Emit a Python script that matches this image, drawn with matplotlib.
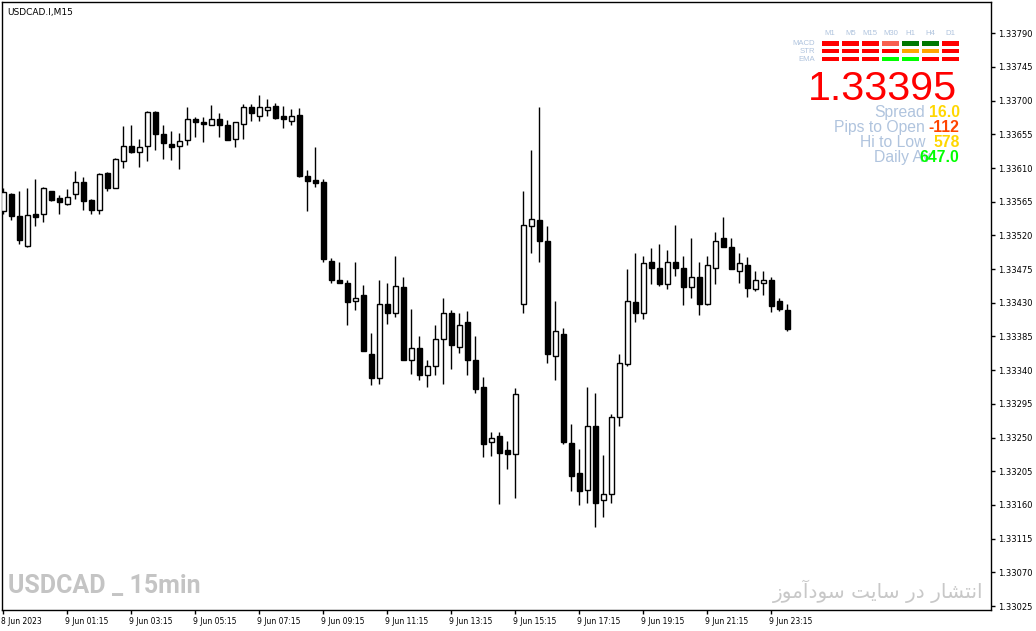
"""
USDCAD M15 candlestick chart in MT4 style with an indicator panel.
"""

import matplotlib

matplotlib.use("Agg")
import matplotlib.pyplot as plt
import numpy as np
from matplotlib.transforms import ScaledTranslation


# OHLC of the 99 visible M15 candles (8 Jun 23:15 .. 9 Jun 23:45)
opens = [
    1.33552, 1.33576, 1.33546, 1.33506, 1.33548, 1.33548, 1.33579, 1.33570, 1.33562, 1.33575,
    1.33591, 1.33567, 1.33554, 1.33603, 1.33584, 1.33619, 1.33639, 1.33632, 1.33639, 1.33685,
    1.33655, 1.33642, 1.33639, 1.33647, 1.33675, 1.33672, 1.33668, 1.33675, 1.33667, 1.33649,
    1.33669, 1.33691, 1.33680, 1.33688, 1.33693, 1.33679, 1.33673, 1.33681, 1.33599, 1.33594,
    1.33591, 1.33486, 1.33460, 1.33457, 1.33432, 1.33440, 1.33361, 1.33330, 1.33428, 1.33417,
    1.33451, 1.33353, 1.33369, 1.33333, 1.33345, 1.33381, 1.33417, 1.33371, 1.33405, 1.33353,
    1.33317, 1.33244, 1.33252, 1.33234, 1.33228, 1.33428, 1.33532, 1.33540, 1.33512, 1.33359,
    1.33389, 1.33243, 1.33202, 1.33180, 1.33266, 1.33166, 1.33174, 1.33278, 1.33348, 1.33431,
    1.33417, 1.33484, 1.33476, 1.33455, 1.33485, 1.33477, 1.33451, 1.33464, 1.33428, 1.33477,
    1.33516, 1.33504, 1.33472, 1.33481, 1.33449, 1.33457, 1.33460, 1.33432, 1.33421,
]
highs = [
    1.33583, 1.33577, 1.33580, 1.33584, 1.33595, 1.33585, 1.33580, 1.33574, 1.33582, 1.33606,
    1.33598, 1.33568, 1.33603, 1.33605, 1.33623, 1.33666, 1.33668, 1.33649, 1.33686, 1.33686,
    1.33668, 1.33659, 1.33657, 1.33692, 1.33678, 1.33678, 1.33694, 1.33684, 1.33674, 1.33672,
    1.33696, 1.33696, 1.33708, 1.33702, 1.33697, 1.33693, 1.33689, 1.33690, 1.33607, 1.33638,
    1.33595, 1.33490, 1.33484, 1.33460, 1.33484, 1.33454, 1.33390, 1.33460, 1.33456, 1.33492,
    1.33464, 1.33422, 1.33385, 1.33354, 1.33401, 1.33436, 1.33420, 1.33417, 1.33419, 1.33385,
    1.33331, 1.33258, 1.33258, 1.33246, 1.33316, 1.33579, 1.33634, 1.33692, 1.33532, 1.33432,
    1.33397, 1.33268, 1.33235, 1.33318, 1.33310, 1.33227, 1.33281, 1.33361, 1.33475, 1.33497,
    1.33493, 1.33503, 1.33508, 1.33500, 1.33534, 1.33492, 1.33516, 1.33484, 1.33492, 1.33524,
    1.33544, 1.33516, 1.33497, 1.33491, 1.33472, 1.33472, 1.33465, 1.33437, 1.33428,
]
lows = [
    1.33549, 1.33540, 1.33508, 1.33504, 1.33532, 1.33538, 1.33566, 1.33548, 1.33561, 1.33569,
    1.33554, 1.33548, 1.33549, 1.33580, 1.33583, 1.33610, 1.33630, 1.33611, 1.33620, 1.33634,
    1.33622, 1.33621, 1.33609, 1.33641, 1.33652, 1.33645, 1.33667, 1.33651, 1.33647, 1.33638,
    1.33649, 1.33673, 1.33673, 1.33680, 1.33675, 1.33664, 1.33667, 1.33598, 1.33552, 1.33585,
    1.33484, 1.33456, 1.33456, 1.33400, 1.33420, 1.33365, 1.33320, 1.33322, 1.33402, 1.33411,
    1.33353, 1.33335, 1.33327, 1.33317, 1.33333, 1.33321, 1.33342, 1.33363, 1.33333, 1.33309,
    1.33224, 1.33226, 1.33161, 1.33208, 1.33169, 1.33417, 1.33497, 1.33484, 1.33349, 1.33327,
    1.33242, 1.33178, 1.33160, 1.33162, 1.33130, 1.33144, 1.33162, 1.33265, 1.33345, 1.33405,
    1.33409, 1.33455, 1.33453, 1.33449, 1.33466, 1.33427, 1.33437, 1.33414, 1.33427, 1.33455,
    1.33504, 1.33475, 1.33457, 1.33438, 1.33446, 1.33441, 1.33418, 1.33419, 1.33393,
]
closes = [
    1.33578, 1.33546, 1.33514, 1.33547, 1.33544, 1.33583, 1.33567, 1.33564, 1.33571, 1.33591,
    1.33566, 1.33554, 1.33602, 1.33584, 1.33622, 1.33639, 1.33631, 1.33638, 1.33685, 1.33656,
    1.33643, 1.33638, 1.33646, 1.33675, 1.33671, 1.33669, 1.33675, 1.33668, 1.33648, 1.33671,
    1.33691, 1.33683, 1.33691, 1.33691, 1.33677, 1.33675, 1.33679, 1.33599, 1.33593, 1.33590,
    1.33488, 1.33460, 1.33457, 1.33431, 1.33436, 1.33365, 1.33329, 1.33428, 1.33417, 1.33452,
    1.33353, 1.33369, 1.33333, 1.33345, 1.33381, 1.33417, 1.33373, 1.33401, 1.33353, 1.33315,
    1.33242, 1.33250, 1.33230, 1.33228, 1.33308, 1.33534, 1.33542, 1.33513, 1.33361, 1.33393,
    1.33244, 1.33199, 1.33179, 1.33265, 1.33162, 1.33174, 1.33278, 1.33349, 1.33432, 1.33416,
    1.33483, 1.33476, 1.33455, 1.33485, 1.33477, 1.33451, 1.33464, 1.33429, 1.33480, 1.33512,
    1.33504, 1.33475, 1.33483, 1.33450, 1.33460, 1.33460, 1.33426, 1.33422, 1.33395,
]

price_ticks = [1.33025, 1.33070, 1.33115, 1.33160, 1.33205, 1.33250, 1.33295, 1.33340, 1.33385,
               1.33430, 1.33475, 1.33520, 1.33565, 1.33610, 1.33655, 1.33700, 1.33745, 1.33790]
time_labels = ["8 Jun 2023", "9 Jun 01:15", "9 Jun 03:15", "9 Jun 05:15", "9 Jun 07:15",
               "9 Jun 09:15", "9 Jun 11:15", "9 Jun 13:15", "9 Jun 15:15", "9 Jun 17:15",
               "9 Jun 19:15", "9 Jun 21:15", "9 Jun 23:15"]

timeframes = ["M1", "M5", "M15", "M30", "H1", "H4", "D1"]
signal_rows = ["MACD", "STR", "EMA"]
signal_colors = [
    ["#ff0000", "#ff0000", "#ff0000", "#f86050", "#007800", "#007800", "#ff0000"],
    ["#ff0000", "#ff0000", "#ff0000", "#ff0000", "#ffa500", "#ffa500", "#ff0000"],
    ["#ff0000", "#ff0000", "#ff0000", "#00ff00", "#00ff00", "#ff0000", "#ff0000"],
]
info_labels = ["Spread", "Pips to Open", "Hi to Low", "Daily Av"]
info_values = ["16.0", "-112", "578", "647.0"]
info_colors = ["#ffd700", "#ff4500", "#ffd700", "#00ff00"]

W, H = 1036, 631
LABEL_BLUE = "#b0c4de"


def main() -> None:
    o = np.array(opens)
    h = np.array(highs)
    lo = np.array(lows)
    c = np.array(closes)
    x = np.arange(len(o))

    fig = plt.figure(figsize=(W / 100, H / 100), dpi=100)
    fig.patch.set_facecolor("white")
    ax = fig.add_axes([2 / W, 1 - 610 / H, 989 / W, 608 / H])

    # 8 px per candle, first candle at x=3.3 px; price scale 74863 px per unit
    ax.set_xlim((2 - 3.3) / 8, (991 - 3.3) / 8)
    ax.set_ylim(1.33790 - (610 - 33.3) / 74863, 1.33790 + (33.3 - 2) / 74863)

    up = c >= o
    ax.vlines(x, lo, h, color="black", linewidth=1, zorder=2)
    ax.bar(x, np.maximum(np.abs(c - o), 0.000005), bottom=np.minimum(o, c), width=0.6,
           color=np.where(up, "white", "black"), edgecolor="black", linewidth=1, zorder=3)

    for side in ["left", "right", "top", "bottom"]:
        ax.spines[side].set_linewidth(1)
        ax.spines[side].set_color("black")

    ax.yaxis.tick_right()
    ax.set_yticks(price_ticks)
    ax.set_yticklabels([f"{v:.5f}" for v in price_ticks])
    ax.tick_params(axis="y", direction="out", length=3, width=1, pad=2, labelsize=6)

    ax.set_xticks(np.arange(0, len(time_labels) * 8, 8))
    ax.set_xticklabels(time_labels)
    ax.tick_params(axis="x", direction="out", length=3, width=1, pad=2, labelsize=5.5)
    shift = ScaledTranslation(-2 / 100, 0, fig.dpi_scale_trans)
    for lbl in ax.get_xticklabels():
        lbl.set_horizontalalignment("left")
        lbl.set_transform(lbl.get_transform() + shift)

    fig.text(7 / W, 1 - 12 / H, "USDCAD.I,M15", fontsize=6.5, va="center", color="black")

    # signal panel
    axp = fig.add_axes([820.2 / W, 1 - 63 / H, 140.4 / W, 23.6 / H])
    axp.set_xlim(-0.5, 6.5)
    axp.set_ylim(2.5, -0.5)
    axp.axis("off")
    for r, row_colors in enumerate(signal_colors):
        axp.bar(np.arange(len(timeframes)), 0.58, bottom=r - 0.29, width=0.85,
                color=row_colors, linewidth=0)
        axp.text(-0.76, r, signal_rows[r], ha="right", va="center", fontsize=5.6,
                 color=LABEL_BLUE, family="Liberation Sans", clip_on=False)
    for j, tf in enumerate(timeframes):
        axp.text(j, -1.27, tf, ha="center", va="center", fontsize=5.6,
                 color=LABEL_BLUE, family="Liberation Sans", clip_on=False)

    fig.text(957 / W, 1 - 100 / H, f"{closes[-1]:.5f}", ha="right", va="baseline",
             fontsize=29.7, color="red", family="Liberation Sans")

    for i, (lab, val, col) in enumerate(zip(info_labels, info_values, info_colors)):
        yb = 1 - (116.7 + 15 * i) / H
        lx = 925 if i < 3 else 931
        fig.text(lx / W, yb, lab, ha="right", va="baseline", fontsize=11.3,
                 color=LABEL_BLUE, family="Liberation Sans")
        fig.text(959.5 / W, yb, val, ha="right", va="baseline", fontsize=11.3,
                 color=col, family="Liberation Sans", fontweight="bold")

    fig.text(8 / W, 1 - 593 / H, "USDCAD _ 15min", ha="left", va="baseline",
             fontsize=18, fontweight="bold", color="#c4c4c4",
             family=["Roboto", "DejaVu Sans"])

    # "انتشار در سایت سودآموز" in shaped presentation forms, visual order
    persian = ("\uFEAF\uFEEE\uFEE3\uFE81\uFEA9\uFEEE\uFEB3 \uFE96\uFEF3\uFE8E\uFEB3 "
               "\uFEAD\uFEA9 \uFEAD\uFE8E\uFEB8\uFE98\uFEE7\uFE8D")
    fig.text(878 / W, 1 - 591 / H, persian, ha="center", va="center",
             fontsize=14.5, color="#c8c8c8", family="DejaVu Sans")

    fig.savefig("out.png", dpi=100, facecolor="white")
    plt.close(fig)


if __name__ == "__main__":
    main()
